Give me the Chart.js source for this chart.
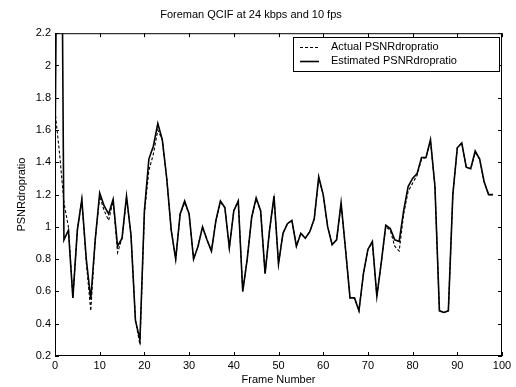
<!DOCTYPE html>
<html>
<head>
<meta charset="utf-8">
<script src="https://cdn.jsdelivr.net/npm/chart.js@4"></script>
<style>
html,body{margin:0;padding:0;background:#fff;}
#wrap{width:516px;height:387px;}
</style>
</head>
<body>
<div id="wrap"><canvas id="c" width="516" height="387"></canvas></div>
<script>
const frames = [];
for (let i = 0; i <= 98; i++) frames.push(i);

const estimated = [1.4,5.0,0.92,0.98,0.56,0.98,1.17,0.8,0.55,0.92,
1.21,1.13,1.08,1.17,0.88,0.93,1.19,0.95,0.42,0.3,
1.1,1.42,1.5,1.64,1.54,1.3,0.98,0.8,1.08,1.16,
1.08,0.8,0.88,1.0,0.92,0.85,1.04,1.16,1.12,0.87,
1.1,1.16,0.6,0.8,1.06,1.18,1.1,0.71,0.98,1.19,
0.77,0.96,1.02,1.04,0.88,0.96,0.93,0.97,1.05,1.31,
1.2,1.0,0.89,0.92,1.15,0.86,0.56,0.56,0.48,0.71,
0.86,0.91,0.57,0.78,1.01,0.99,0.92,0.91,1.1,1.25,
1.3,1.33,1.43,1.43,1.54,1.25,0.48,0.47,0.48,1.2,
1.49,1.52,1.37,1.36,1.47,1.42,1.28,1.2,1.2];

const actual = [1.72,1.46,1.15,1.0,0.56,0.98,1.17,0.78,0.48,0.92,
1.19,1.1,1.04,1.16,0.84,0.93,1.18,0.95,0.42,0.27,
1.08,1.35,1.45,1.6,1.54,1.3,0.98,0.8,1.08,1.15,
1.08,0.8,0.88,1.0,0.92,0.85,1.04,1.15,1.12,0.87,
1.1,1.16,0.6,0.8,1.06,1.17,1.1,0.71,0.98,1.18,
0.77,0.96,1.02,1.04,0.88,0.96,0.93,0.97,1.05,1.3,
1.2,1.0,0.89,0.92,1.14,0.86,0.56,0.56,0.48,0.71,
0.86,0.9,0.57,0.78,1.0,0.98,0.88,0.85,1.08,1.22,
1.27,1.32,1.42,1.43,1.53,1.25,0.48,0.47,0.48,1.2,
1.49,1.52,1.37,1.36,1.46,1.42,1.28,1.2,1.2];

const seriesNames = ["Actual PSNRdropratio", "Estimated PSNRdropratio"];
const titleText = "Foreman QCIF at 24 kbps and 10 fps";
const xLabel = "Frame Number";
const yLabel = "PSNRdropratio";

const FONT = "'Liberation Sans', Arial, sans-serif";

const framePlugin = {
  id: 'frameTicks',
  afterDraw(chart) {
    const {ctx, chartArea: a, scales} = chart;
    ctx.save();
    ctx.strokeStyle = '#000';
    ctx.lineWidth = 1;
    ctx.strokeRect(a.left + 0.5, a.top + 0.5, a.right - a.left - 1, a.bottom - a.top - 1);
    const tl = 4;
    ctx.beginPath();
    scales.x.ticks.forEach(t => {
      const px = Math.round(scales.x.getPixelForValue(t.value)) + 0.5;
      ctx.moveTo(px, a.bottom); ctx.lineTo(px, a.bottom - tl);
      ctx.moveTo(px, a.top); ctx.lineTo(px, a.top + tl);
    });
    scales.y.ticks.forEach(t => {
      const py = Math.round(scales.y.getPixelForValue(t.value)) + 0.5;
      ctx.moveTo(a.left, py); ctx.lineTo(a.left + tl, py);
      ctx.moveTo(a.right, py); ctx.lineTo(a.right - tl, py);
    });
    ctx.stroke();

    // legend
    const lx = 293, ly = 37, lw = 206, lh = 34;
    ctx.fillStyle = '#fff';
    ctx.fillRect(lx, ly, lw, lh);
    ctx.strokeRect(lx + 0.5, ly + 0.5, lw, lh);
    ctx.font = '11px ' + FONT;
    ctx.fillStyle = '#000';
    ctx.textBaseline = 'middle';
    const rows = [ly + 10, ly + 24];
    chart.data.datasets.forEach((ds, i) => {
      const y = rows[i] + 0.5;
      ctx.beginPath();
      ctx.lineWidth = ds.borderWidth;
      ctx.setLineDash(ds.borderDash || []);
      ctx.moveTo(lx + 7, y); ctx.lineTo(lx + 26, y);
      ctx.stroke();
      ctx.setLineDash([]);
      ctx.fillText(ds.label, lx + 38, rows[i]);
    });
    ctx.restore();
  }
};

new Chart(document.getElementById('c'), {
  type: 'line',
  data: {
    labels: frames,
    datasets: [
      { label: seriesNames[0], data: actual, borderColor: '#000', borderWidth: 1.1, borderDash: [3, 2], pointRadius: 0, tension: 0, fill: false },
      { label: seriesNames[1], data: estimated, borderColor: '#000', borderWidth: 1.6, pointRadius: 0, tension: 0, fill: false }
    ]
  },
  options: {
    responsive: false,
    animation: false,
    devicePixelRatio: 1,
    layout: { padding: { left: 0, right: 14, top: 0, bottom: 0 } },
    plugins: {
      legend: { display: false },
      tooltip: { enabled: false },
      title: {
        display: true, text: titleText, color: '#000',
        font: { family: FONT, size: 11, weight: 'normal' },
        padding: { top: 8, bottom: 12 }
      }
    },
    scales: {
      x: {
        type: 'linear', min: 0, max: 100,
        ticks: { stepSize: 10, color: '#000', font: { family: FONT, size: 11 }, padding: 3, maxRotation: 0 },
        grid: { display: false, drawTicks: false },
        border: { display: false },
        title: { display: true, text: xLabel, color: '#000', font: { family: FONT, size: 11 }, padding: { top: 0, bottom: 0 } },
        afterFit(s) { s.height = 31; }
      },
      y: {
        min: 0.2, max: 2.2,
        ticks: { stepSize: 0.2, color: '#000', font: { family: FONT, size: 11 }, padding: 4,
          callback: v => String(Math.round(v * 10) / 10) },
        grid: { display: false, drawTicks: false },
        border: { display: false },
        title: { display: true, text: yLabel, color: '#000', font: { family: FONT, size: 11 }, padding: { top: 15, bottom: 0 } },
        afterFit(s) { s.width = 55; }
      }
    }
  },
  plugins: [framePlugin]
});
</script>
</body>
</html>
